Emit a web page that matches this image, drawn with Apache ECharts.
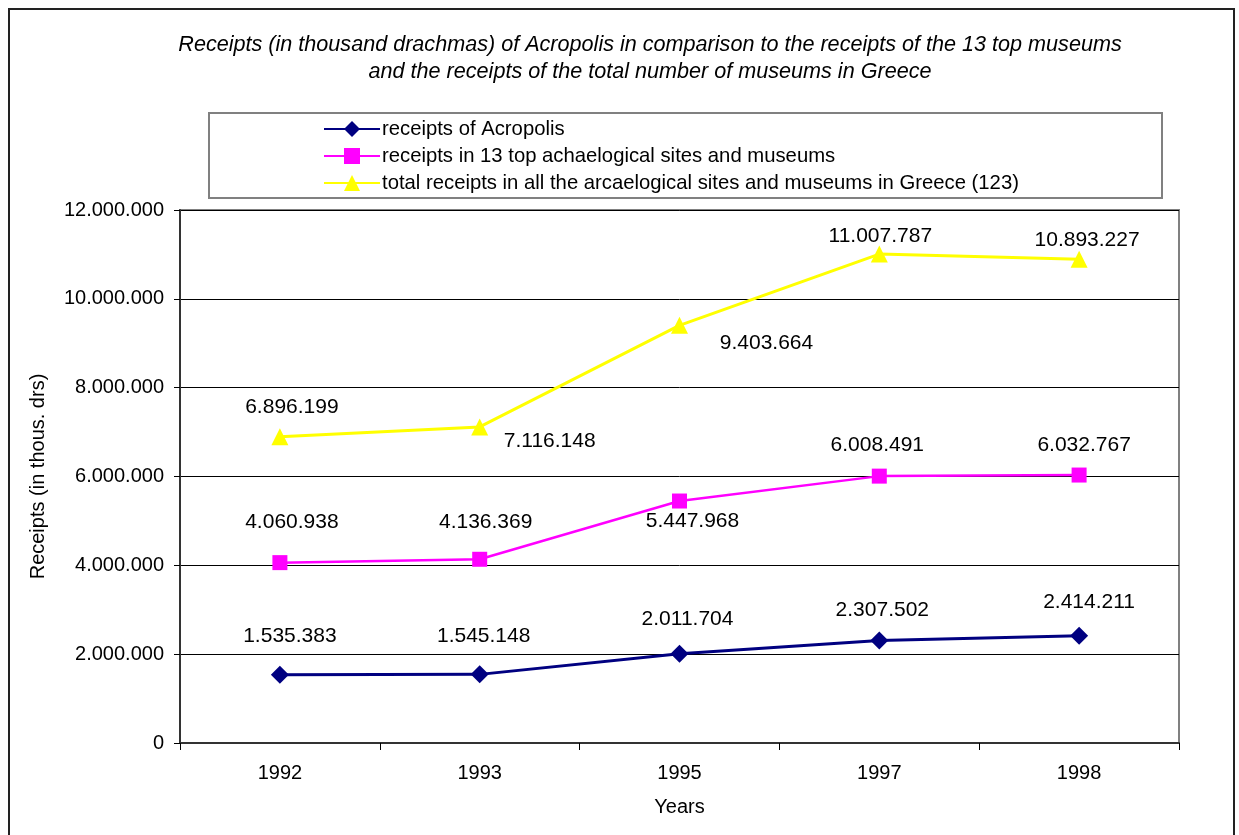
<!DOCTYPE html>
<html>
<head>
    <meta charset="UTF-8">
    <title>Receipts of Acropolis</title>
    <style>
        body, html {
            margin: 0;
            padding: 0;
            width: 100%;
            height: 100%;
            background: #fff;
            overflow: hidden;
        }
        #frame {
            position: absolute;
            left: 8px;
            top: 8px;
            width: 1227px;
            height: 840px;
            border: 2px solid #222;
            box-sizing: border-box;
        }
        #container {
            position: absolute;
            left: 0;
            top: 0;
            width: 1239px;
            height: 835px;
        }
    </style>
</head>
<body>
<div id="frame"></div>
<div id="container"></div>

<script src="https://cdn.jsdelivr.net/npm/echarts@6/dist/echarts.min.js"></script>
<script>
    // data
    var years = ['1992', '1993', '1995', '1997', '1998'];
    var seriesNames = [
        'receipts of Acropolis',
        'receipts in 13 top achaelogical sites and museums',
        'total receipts in all the arcaelogical sites and museums in Greece (123)'
    ];
    var acropolis = [1535383, 1545148, 2011704, 2307502, 2414211];
    var top13 = [4060938, 4136369, 5447968, 6008491, 6032767];
    var allMuseums = [6896199, 7116148, 9403664, 11007787, 10893227];
    var yTicks = [0, 2000000, 4000000, 6000000, 8000000, 10000000, 12000000];

    // label offsets [dx, dy] from each point, as placed in the original
    var acropolisLabelPos = [[10, -39], [4, -38], [8, -34], [3, -30], [10, -34]];
    var top13LabelPos = [[12, -40], [6, -37], [13, 20], [-2, -31], [5, -30]];
    var allLabelPos = [[12, -29], [70, 14], [87, 18], [1, -18], [8, -19]];

    function fmt(v) {
        return String(v).replace(/\B(?=(\d{3})+(?!\d))/g, '.');
    }

    function buildData(values, pos) {
        var out = [];
        for (var i = 0; i < values.length; i++) {
            out.push({
                value: values[i],
                label: {offset: pos[i]}
            });
        }
        return out;
    }

    var labelStyle = {
        show: true,
        position: 'inside',
        align: 'center',
        verticalAlign: 'middle',
        fontFamily: 'Liberation Sans',
        fontSize: 21,
        color: '#000',
        formatter: function (p) { return fmt(p.value); }
    };

    var chart = echarts.init(document.getElementById('container'));
    var option = {
        backgroundColor: 'transparent',
        animation: false,
        title: {
            text: 'Receipts (in thousand drachmas) of Acropolis in comparison to the receipts of the 13 top museums\nand the receipts of the total number of museums in Greece',
            left: 645,
            top: 26,
            textAlign: 'center',
            textStyle: {
                fontFamily: 'Liberation Sans',
                fontSize: 21.6,
                fontStyle: 'italic',
                fontWeight: 'normal',
                color: '#000',
                lineHeight: 27
            }
        },
        graphic: [{
            type: 'rect',
            shape: {x: 209, y: 113, width: 953, height: 85},
            style: {fill: 'none', stroke: '#808080', lineWidth: 2},
            z: -1
        }],
        legend: {
            orient: 'vertical',
            left: 318,
            top: 114,
            itemWidth: 56,
            itemHeight: 20,
            itemGap: 7,
            textStyle: {
                fontFamily: 'Liberation Sans',
                fontSize: 20.3,
                color: '#000',
                padding: [0, 0, 0, -3]
            },
            data: seriesNames
        },
        grid: {
            left: 180,
            right: 60,
            top: 210,
            bottom: 92,
            show: true,
            borderColor: '#808080',
            borderWidth: 2,
            containLabel: false
        },
        xAxis: {
            type: 'category',
            data: years,
            boundaryGap: true,
            name: 'Years',
            nameLocation: 'middle',
            nameGap: 54,
            nameTextStyle: {fontFamily: 'Liberation Sans', fontSize: 20, color: '#000'},
            axisLine: {lineStyle: {color: '#333', width: 2}},
            axisTick: {show: true, length: 7, lineStyle: {color: '#000'}},
            axisLabel: {fontFamily: 'Liberation Sans', fontSize: 20, color: '#000', margin: 20},
            splitLine: {show: false}
        },
        yAxis: {
            type: 'value',
            min: 0,
            max: 12000000,
            interval: 2000000,
            name: 'Receipts (in thous. drs)',
            nameLocation: 'middle',
            nameGap: 132,
            nameRotate: 90,
            nameTextStyle: {fontFamily: 'Liberation Sans', fontSize: 20, color: '#000'},
            axisLine: {show: true, lineStyle: {color: '#333', width: 2}},
            axisTick: {show: true, length: 6, lineStyle: {color: '#000'}},
            axisLabel: {
                fontFamily: 'Liberation Sans',
                fontSize: 20,
                color: '#000',
                margin: 16,
                formatter: function (v) { return yTicks.indexOf(v) >= 0 ? fmt(v) : ''; }
            },
            splitLine: {show: true, lineStyle: {color: '#000', width: 1}}
        },
        series: [
            {
                name: seriesNames[0],
                type: 'line',
                symbol: 'diamond',
                symbolSize: 18,
                itemStyle: {color: '#000080'},
                lineStyle: {color: '#000080', width: 3},
                label: labelStyle,
                data: buildData(acropolis, acropolisLabelPos),
                z: 4
            },
            {
                name: seriesNames[1],
                type: 'line',
                symbol: 'rect',
                symbolSize: 15,
                itemStyle: {color: '#FF00FF'},
                lineStyle: {color: '#FF00FF', width: 2.5},
                label: labelStyle,
                data: buildData(top13, top13LabelPos),
                z: 3
            },
            {
                name: seriesNames[2],
                type: 'line',
                symbol: 'triangle',
                symbolSize: 17,
                itemStyle: {color: '#FFFF00'},
                lineStyle: {color: '#FFFF00', width: 3},
                label: labelStyle,
                data: buildData(allMuseums, allLabelPos),
                z: 2
            }
        ]
    };
    chart.setOption(option);
</script>
</body>
</html>
